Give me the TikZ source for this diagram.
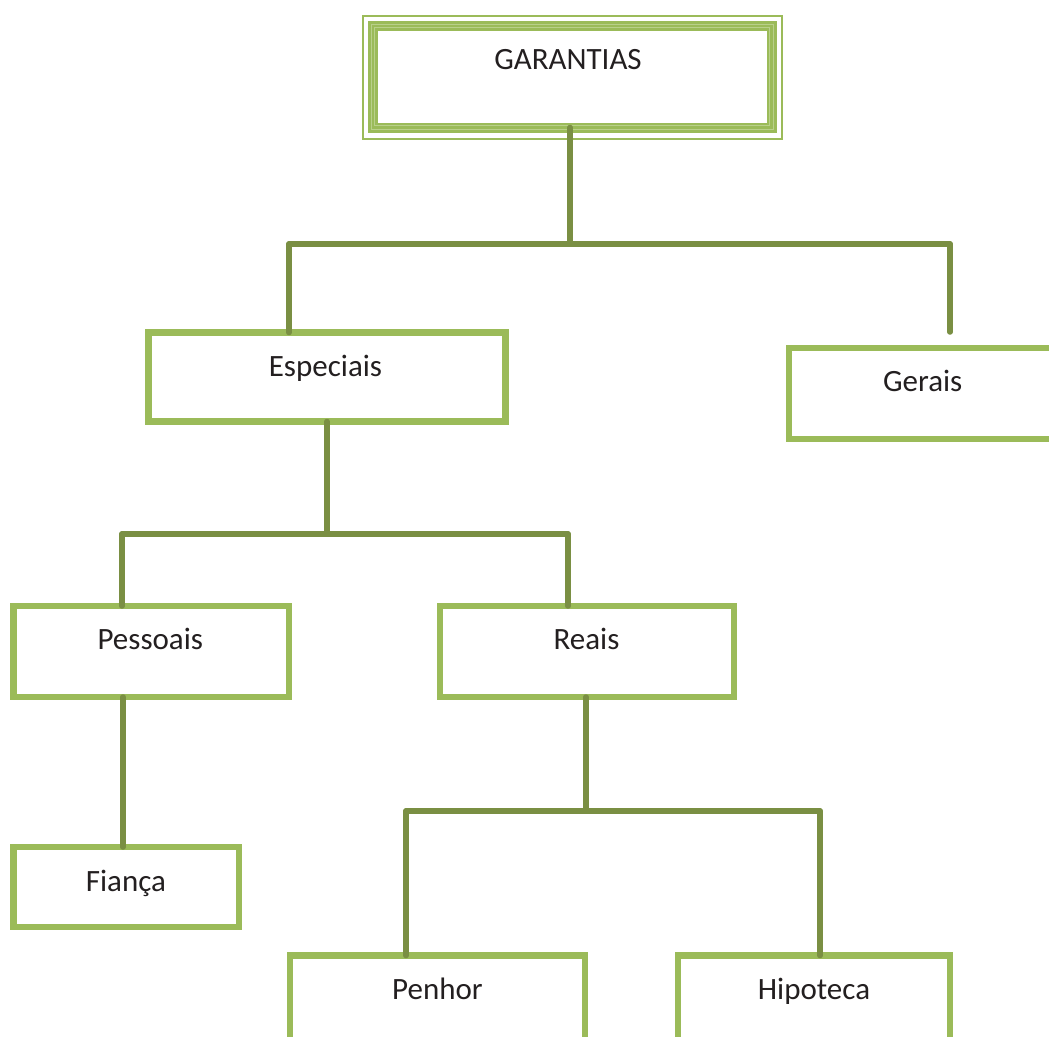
\documentclass[tikz,border=0pt]{standalone}
\usepackage{fontspec}
\setmainfont{Carlito}
\usetikzlibrary{calc}
\definecolor{boxgreen}{HTML}{9BBB59}
\definecolor{linkgreen}{HTML}{7A8F43}
\definecolor{bandlight}{HTML}{B9D08A}
\definecolor{inktext}{HTML}{231F20}
\begin{document}
\begin{tikzpicture}[x=1pt,y=-1pt,
  box/.style={draw=boxgreen,line width=6.5pt,fill=white,inner sep=0pt,outer sep=0pt},
  conn/.style={draw=linkgreen,line width=5.5pt,line cap=round},
  lbl/.style={anchor=base,inner sep=0pt,text=inktext,font=\fontsize{31}{37}\selectfont}]
\useasboundingbox (0,0) rectangle (1049,1036);
\clip (0,0) rectangle (1049,1036);

% --- head box: thick band inside a thin frame ---
\node[draw=boxgreen,line width=10pt,inner sep=0pt,outer sep=0pt,
      minimum width=398.5,minimum height=101.5] (top) at (572.25,76.75) {};
\draw[bandlight,line width=0.8pt] ($(top.north west)+(-1.7,-1.7)$) rectangle ($(top.south east)+(1.7,1.7)$);
\draw[bandlight,line width=0.8pt] ($(top.north west)+(1.7,1.7)$) rectangle ($(top.south east)+(-1.7,-1.7)$);
\draw[boxgreen,line width=2pt] ($(top.north west)+(-10.5,-10.5)$) rectangle ($(top.south east)+(10.75,11)$);

% --- boxes ---
\node[box,minimum width=357,minimum height=89] (esp) at (327,377) {};
\node[box,minimum width=291,minimum height=91] (ger) at (934.5,393.5) {};
\node[box,minimum width=275.5,minimum height=91] (pes) at (151.25,651.5) {};
\node[box,minimum width=294,minimum height=91] (rea) at (587,651.5) {};
\node[box,minimum width=225.5,minimum height=80] (fia) at (126.25,887) {};
\node[box,minimum width=295,minimum height=144.5] (pen) at (437.5,1027.75) {};
\node[box,minimum width=272,minimum height=144.5] (hip) at (814,1027.75) {};

% --- labels ---
\node[lbl] (tTop) at (568,69) {GARANTIAS};
\node[lbl] (tEsp) at (325.5,376) {Especiais};
\node[lbl] (tGer) at (922.7,391) {Gerais};
\node[lbl] (tPes) at (150.3,649) {Pessoais};
\node[lbl] (tRea) at (586.5,649) {Reais};
\node[lbl] (tFia) at (126,891) {Fiança};
\node[lbl] (tPen) at (437.5,999) {Penhor};
\node[lbl] (tHip) at (814,999) {Hipoteca};

% --- junction points ---
\coordinate (j1) at (570,244);
\coordinate (j1l) at (289,244);
\coordinate (j1r) at (950,244);
\coordinate (gerEnd) at (950,332);
\coordinate (j2) at (327,534);
\coordinate (j2l) at (122,534);
\coordinate (j2r) at (568,534);
\coordinate (j3) at (586,811);
\coordinate (j3l) at (406,811);
\coordinate (j3r) at (820,811);
\coordinate (jf) at (123,0);

% --- connectors ---
\draw[conn] (top.south -| j1) -- (j1);
\draw[conn] (j1l) -- (j1r);
\draw[conn] (j1l) -- (esp.north -| j1l);
\draw[conn] (j1r) -- (gerEnd);

\draw[conn] (esp.south -| j2) -- (j2);
\draw[conn] (j2l) -- (j2r);
\draw[conn] (j2l) -- (pes.north -| j2l);
\draw[conn] (j2r) -- (rea.north -| j2r);

\draw[conn] (pes.south -| jf) -- (fia.north -| jf);

\draw[conn] (rea.south -| j3) -- (j3);
\draw[conn] (j3l) -- (j3r);
\draw[conn] (j3l) -- (pen.north -| j3l);
\draw[conn] (j3r) -- (hip.north -| j3r);
\end{tikzpicture}
\end{document}
